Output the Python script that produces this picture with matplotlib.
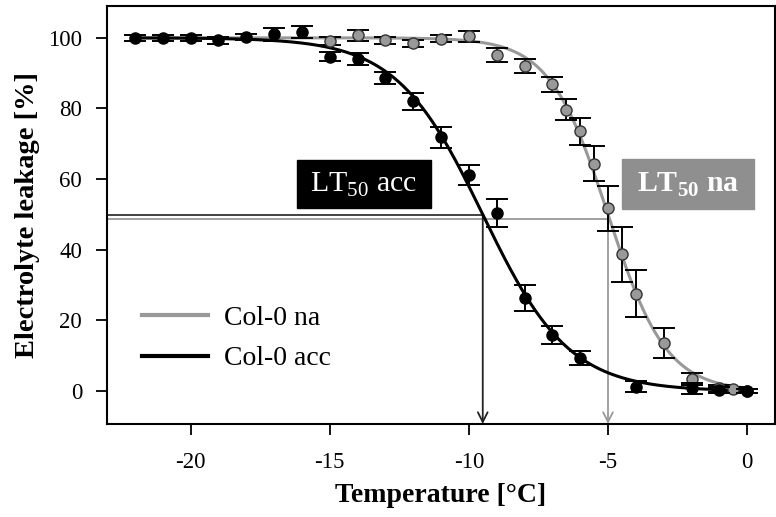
import numpy as np
import matplotlib
matplotlib.use("Agg")
import matplotlib.pyplot as plt
from matplotlib.patches import Rectangle
from matplotlib.lines import Line2D

plt.rcParams['font.family'] = ['Liberation Serif', 'DejaVu Serif']
plt.rcParams['mathtext.fontset'] = 'custom'
plt.rcParams['mathtext.rm'] = 'Liberation Serif'
plt.rcParams['mathtext.bf'] = 'Liberation Serif:bold'
plt.rcParams['axes.unicode_minus'] = False

# ---- data ----
acc_temp = [-22, -21, -20, -19, -18, -17, -16, -15, -14, -13, -12, -11, -10,
            -9, -8, -7, -6, -4, -2, -1, 0]
acc_leak = [100, 100, 100, 99.3, 100.2, 101.0, 101.6, 94.6, 94.1, 88.5, 82.0,
            71.8, 61.1, 50.5, 26.4, 15.8, 9.5, 1.3, 0.8, 0.3, 0.0]
acc_err = [0.8, 0.8, 0.8, 1.0, 0.8, 1.8, 1.6, 1.3, 1.7, 1.7, 2.4, 3.0, 2.8,
           4.0, 3.7, 2.5, 2.0, 1.6, 1.5, 0.8, 0.5]

na_temp = [-15, -14, -13, -12, -11, -10, -9, -8, -7, -6.5, -6, -5.5, -5,
           -4.5, -4, -3, -2, -1, -0.5, 0]
na_leak = [99.1, 100.7, 99.3, 98.5, 99.8, 100.4, 95.2, 92.0, 86.8, 79.7, 73.5,
           64.4, 51.7, 38.7, 27.6, 13.7, 3.4, 0.8, 0.5, 0.0]
na_err = [1.0, 1.5, 1.0, 1.0, 1.0, 1.6, 2.0, 2.0, 2.2, 2.9, 3.9, 5.0, 6.4,
          7.8, 6.7, 4.3, 1.7, 1.0, 0.8, 0.5]

# logistic fit parameters (LT50, slope)
acc_lt50, acc_slope = -9.5, 1.55
na_lt50, na_slope = -5.0, 1.05

xticks = [-20, -15, -10, -5, 0]
yticks = [0, 20, 40, 60, 80, 100]

GRAY = '#999999'
BOXGRAY = '#8f8f8f'

fig = plt.figure(figsize=(7.76, 5.17), dpi=100)
ax = fig.add_axes([107/776, 1-424/517, (775-107)/776, (424-6)/517])
ax.set_xlim(-23, 1)
ax.set_ylim(-9.3, 109)

xs = np.linspace(-22, 0, 400)
ax.plot(xs, 100/(1+np.exp((xs-na_lt50)/na_slope)), color=GRAY, lw=2.2, zorder=3)
ax.plot(xs, 100/(1+np.exp((xs-acc_lt50)/acc_slope)), color='black', lw=2.2, zorder=4)

ax.errorbar(na_temp, na_leak, yerr=na_err, fmt='o', color='black', ecolor='black',
            mfc=GRAY, mec='#333333', ms=8, capsize=8, capthick=1.4, elinewidth=1.4,
            zorder=5)
ax.errorbar(acc_temp, acc_leak, yerr=acc_err, fmt='o', color='black', ecolor='black',
            mfc='black', mec='black', ms=8, capsize=8, capthick=1.4, elinewidth=1.4,
            zorder=6)

# LT50 guide lines
ax.plot([-23, acc_lt50], [49.8, 49.8], color='#333333', lw=1.3, zorder=2)
ax.plot([-23, na_lt50], [48.7, 48.7], color=GRAY, lw=1.3, zorder=2)
ax.annotate('', xy=(acc_lt50, -9.3), xytext=(acc_lt50, 49.8),
            arrowprops=dict(arrowstyle='->,head_length=0.7,head_width=0.35',
                            color='#222222', lw=1.3, shrinkA=0, shrinkB=0), zorder=2)
ax.annotate('', xy=(na_lt50, -9.3), xytext=(na_lt50, 48.7),
            arrowprops=dict(arrowstyle='->,head_length=0.7,head_width=0.35',
                            color=GRAY, lw=1.3, shrinkA=0, shrinkB=0), zorder=2)

# LT50 boxes
ax.add_patch(Rectangle((-16.18, 51.8), 4.81, 13.5, color='black', zorder=7))
ax.text(-13.78, 58.3, r'LT$_{\mathrm{50}}$ acc', color='white', fontsize=21.5,
        ha='center', va='center', zorder=8)
ax.add_patch(Rectangle((-4.48, 51.5), 4.74, 14.1, color=BOXGRAY, zorder=7))
ax.text(-2.11, 58.3, r'LT$_{\mathbf{50}}$ na', color='white', fontsize=21.5,
        fontweight='bold', ha='center', va='center', zorder=8)

ax.set_xticks(xticks)
ax.set_yticks(yticks)
ax.tick_params(direction='out', length=8, width=1.3, labelsize=16.5)
ax.tick_params(axis='x', pad=12)
ax.tick_params(axis='y', pad=10)
for s in ax.spines.values():
    s.set_linewidth(1.5)

ax.set_xlabel('Temperature [°C]', fontsize=20, fontweight='bold', labelpad=7)
ax.set_ylabel('Electrolyte leakage [%]', fontsize=20.5, fontweight='bold', labelpad=6)

handles = [Line2D([], [], color=GRAY, lw=3), Line2D([], [], color='black', lw=3)]
ax.legend(handles, ['Col-0 na', 'Col-0 acc'], loc='center left',
          bbox_to_anchor=(0.052, 0.205), frameon=False, fontsize=20,
          borderpad=0, borderaxespad=0,
          handlelength=2.37, handletextpad=0.6, labelspacing=0.55)

fig.savefig('out.png', dpi=100)
